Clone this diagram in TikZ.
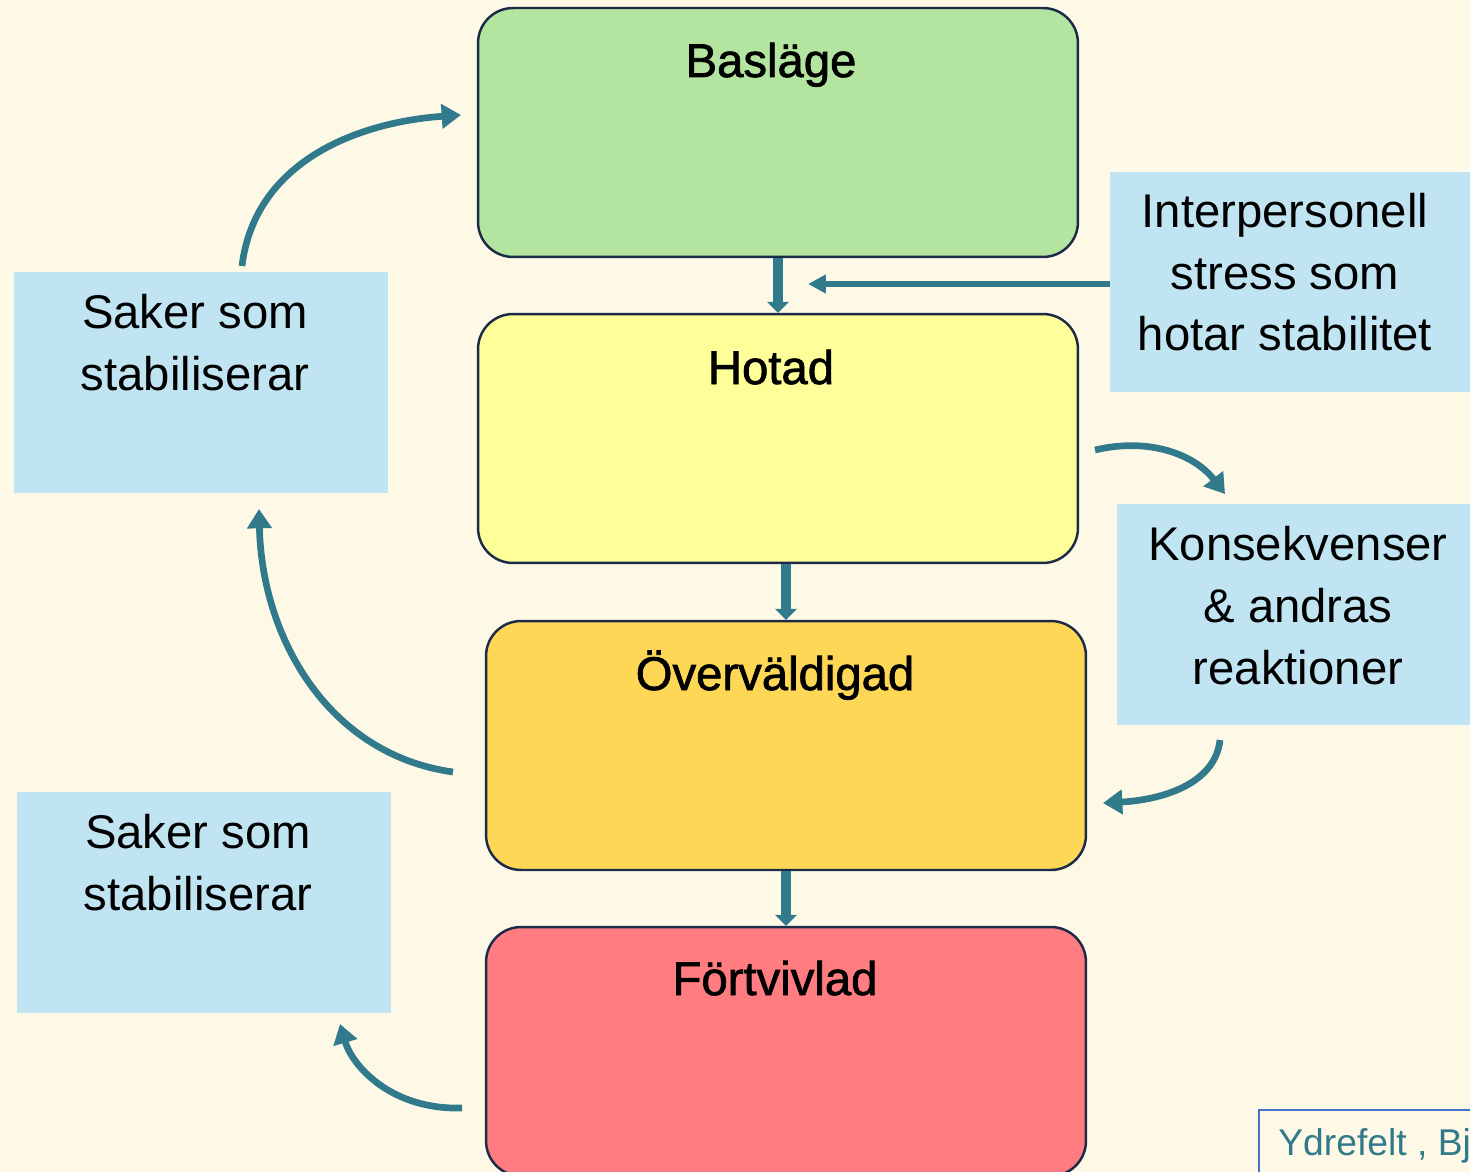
\documentclass[tikz,border=0pt]{standalone}
\usepackage{fontspec}
\setmainfont{Liberation Sans}
\newfontfamily\titlefont{Liberation Sans}[FakeBold=1.5]
\usetikzlibrary{arrows.meta}

\definecolor{bg}{HTML}{FEF8E6}
\definecolor{arrowc}{HTML}{317A8C}
\definecolor{edgec}{HTML}{1C2B47}
\definecolor{stageA}{HTML}{B3E5A1}
\definecolor{stageB}{HTML}{FFFF99}
\definecolor{stageC}{HTML}{FFD757}
\definecolor{stageD}{HTML}{FF7C80}
\definecolor{notefill}{HTML}{C1E4F3}
\definecolor{creditc}{HTML}{4472C4}

\tikzset{
	stage/.style={draw=edgec, line width=1.4pt, rounded corners=0.7cm, minimum width=12cm, minimum height=4.98cm, inner sep=0pt},
	stagetitle/.style={anchor=base, inner sep=0pt, font=\titlefont\fontsize{26.9}{32}\selectfont},
	notebox/.style={fill=notefill, inner sep=0pt, minimum height=4.42cm},
	notetext/.style={anchor=base, align=center, inner sep=0pt, font=\fontsize{26.9}{35.1}\selectfont},
	downarrow/.style={draw=arrowc, line width=5.7pt, -{Triangle[length=6.2pt,width=12pt]}},
	flatarrow/.style={draw=arrowc, line width=3.2pt, -{Triangle[length=10.2pt,width=10.2pt]}},
	bendarrow/.style={draw=arrowc, line width=3.8pt, -{Triangle[length=11pt,width=13.6pt]}}
}

\begin{document}
\begin{tikzpicture}[x=0.02cm, y=-0.02cm]
	\useasboundingbox (0,0) rectangle (1470,1172);
	\fill[bg] (0,0) rectangle (1470,1172);
	\clip (0,0) rectangle (1470,1172);

	\node[stage, fill=stageA] (basl) at (778,132.5) {};
	\node[stage, fill=stageB] (hot) at (778,438.5) {};
	\node[stage, fill=stageC] (overv) at (786,745.5) {};
	\node[stage, fill=stageD] (fort) at (786,1051.5) {};

	\node[stagetitle] (baslT) at (771,77) {Basläge};
	\node[stagetitle] (hotT) at (771,384) {Hotad};
	\node[stagetitle] (overvT) at (775,690) {Överväldigad};
	\node[stagetitle] (fortT) at (775,995) {Förtvivlad};

	\node[notebox, minimum width=7.48cm] (stabA) at (201,382.5) {};
	\node[notebox, minimum width=7.48cm] (stabB) at (204,902.5) {};
	\node[notebox, minimum width=7.4cm, minimum height=4.4cm] (inter) at (1295,282) {};
	\node[notebox, minimum width=7.26cm] (kons) at (1298.5,614.5) {};

	\node[notetext] (stabAT) at (195,390) {Saker som\\stabiliserar};
	\node[notetext] (stabBT) at (198,910) {Saker som\\stabiliserar};
	\node[notetext] (interT) at (1285,351) {Interpersonell\\stress som\\hotar stabilitet};
	\node[notetext] (konsT) at (1298,684) {Konsekvenser\\\& andras\\reaktioner};

	\node[draw=creditc, line width=1.1pt, minimum width=4.62cm, minimum height=1.6cm] (ydre) at (1374.5,1150) {};
	\node[anchor=base west, inner sep=0pt, text=arrowc, font=\fontsize{21.2}{25}\selectfont] (ydreT) at (1278,1155) {Ydrefelt , Bj};

	\draw[downarrow] (basl.south) -- (hot.north);
	\draw[downarrow] (hot.south -| overv.north) -- (overv.north);
	\draw[downarrow] (overv.south) -- (fort.north);

	\coordinate (interEnd) at (808,284);
	\draw[flatarrow] (inter.west |- interEnd) -- (interEnd);

	\coordinate (hotR) at (1095,450);
	\coordinate (konsTop) at (1225,494);
	\draw[bendarrow] (hotR) .. controls (1150,437) and (1195,455) .. (konsTop);

	\coordinate (konsBot) at (1220,740);
	\coordinate (overvR) at (1103,803);
	\draw[bendarrow] (konsBot) .. controls (1215,785) and (1160,800) .. (overvR);

	\coordinate (stabAtop) at (242,266);
	\coordinate (baslL) at (461,115);
	\draw[bendarrow] (stabAtop) .. controls (255,160) and (360,122) .. (baslL);

	\coordinate (overvL) at (453,772);
	\coordinate (stabAbot) at (259,509);
	\draw[bendarrow] (overvL) .. controls (330,755) and (262,640) .. (stabAbot);

	\coordinate (fortL) at (462,1108);
	\coordinate (stabBbot) at (340,1024);
	\draw[bendarrow] (fortL) .. controls (390,1110) and (352,1065) .. (stabBbot);
\end{tikzpicture}
\end{document}
